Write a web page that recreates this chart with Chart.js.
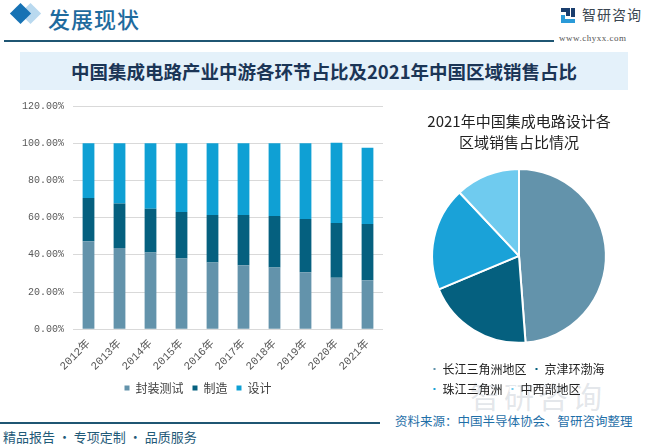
<!DOCTYPE html>
<html>
<head>
<meta charset="utf-8">
<script src="https://cdn.jsdelivr.net/npm/chart.js@4/dist/chart.umd.min.js"></script>
<style>
  html, body { margin:0; padding:0; background:#fff; }
  body { width:646px; height:445px; position:relative; overflow:hidden; font-family:"Noto Sans CJK SC", sans-serif; }
  .abs { position:absolute; }
  #hdrLine { left:4px; top:40px; width:550px; height:1.5px; background:#1f5673; }
  #dia1 { top:6px; width:15px; height:15px; background:#b9d9ef; transform:rotate(45deg); left:23px; }
  #dia2 { left:13px; top:6px; width:15px; height:15px; background:#1672b4; transform:rotate(45deg); }
  #hdrTxt { left:48px; top:2px; font-size:22px; color:#1f6b9e; font-weight:500; letter-spacing:1px; }
  #logoIcon { left:561px; top:8px; width:14px; height:15px; }
  #logoTxt { left:582px; top:4px; font-size:14px; color:#3a4550; letter-spacing:1px; }
  #logoUrl { left:559px; top:33px; font-size:9px; color:#555; font-family:"Liberation Serif", serif; letter-spacing:0.5px; }
  #band { left:20px; top:52px; width:608px; height:38px; background:#e4f1fa; }
  #title { left:20px; top:52px; width:608px; height:38px; line-height:38px; text-align:center; font-size:18.5px; font-weight:700; color:#1b3556; }
  #barWrap { left:0px; top:91px; width:400px; height:313px; }
  #pieWrap { left:403px; top:100px; width:234px; height:305px; }
  #footLine { left:0px; top:422px; width:380px; height:1.5px; background:#1f5673; }
  #footTxt { left:3px; top:427px; font-size:13px; color:#1f5a78; white-space:pre; }
  #src { left:395px; top:411px; font-size:12.5px; color:#1f6fa8; white-space:nowrap; }
  #wm { left:470px; top:373px; font-size:30px; color:rgba(160,172,184,0.3); letter-spacing:4px; }
</style>
</head>
<body>
<div id="dia1" class="abs"></div>
<div id="dia2" class="abs"></div>
<div id="hdrTxt" class="abs">发展现状</div>
<svg id="logoIcon" class="abs" viewBox="0 0 14 15"><rect x="0" y="0" width="9" height="4" fill="#1a3e6e"/><rect x="5" y="4" width="4" height="4" fill="#1a3e6e"/><rect x="0" y="7" width="4" height="8" fill="#2a9ad8"/><rect x="4" y="11" width="10" height="4" fill="#2a9ad8"/><rect x="10" y="0" width="4" height="9" fill="#1a3e6e"/></svg>
<div id="logoTxt" class="abs">智研咨询</div>
<div id="logoUrl" class="abs">www.chyxx.com</div>
<div id="hdrLine" class="abs"></div>
<div id="band" class="abs"></div>
<div id="title" class="abs">中国集成电路产业中游各环节占比及2021年中国区域销售占比</div>
<div id="wm" class="abs">智研咨询</div>
<div id="barWrap" class="abs"><canvas id="bar" width="400" height="313"></canvas></div>
<div id="pieWrap" class="abs"><canvas id="pie" width="234" height="305"></canvas></div>
<div id="footLine" class="abs"></div>
<div id="footTxt" class="abs">精品报告 · 专项定制 · 品质服务</div>
<div id="src" class="abs">资料来源：中国半导体协会、智研咨询整理</div>
<script>
// ---- data ----
const years = ["2012年","2013年","2014年","2015年","2016年","2017年","2018年","2019年","2020年","2021年"];
const seriesNames = ["封装测试","制造","设计"];
const packaging = [47.3, 43.6, 41.3, 38.0, 35.9, 34.4, 33.2, 30.6, 27.7, 26.3];
const manufacturing = [23.3, 24.0, 23.4, 25.0, 25.5, 27.0, 27.7, 28.6, 29.4, 30.3];
const design = [29.4, 32.4, 35.3, 37.0, 38.6, 38.6, 39.1, 40.8, 43.2, 41.0];
const yTicks = [0, 20, 40, 60, 80, 100, 120];

const regions = ["长江三角洲地区","京津环渤海","珠江三角洲","中西部地区"];
const regionShare = [48.8, 19.9, 19.3, 12.0];
const pieTitle = ["2021年中国集成电路设计各","区域销售占比情况"];

// ---- styles ----
const barColors = ["#6393ab", "#05607f", "#0fa0d4"];
const pieColors = ["#6393ab", "#05607f", "#1aa2d8", "#6fcbef"];
const tickFont = { family: "'Liberation Mono', 'Noto Sans CJK SC', monospace", size: 10 };

new Chart(document.getElementById("bar"), {
  type: "bar",
  data: {
    labels: years,
    datasets: [
      { label: seriesNames[0], data: packaging, backgroundColor: barColors[0] },
      { label: seriesNames[1], data: manufacturing, backgroundColor: barColors[1] },
      { label: seriesNames[2], data: design, backgroundColor: barColors[2] }
    ]
  },
  options: {
    responsive: false,
    animation: false,
    layout: { padding: { left: 13, right: 17, top: 8, bottom: 0 } },
    datasets: { bar: { categoryPercentage: 1, barPercentage: 0.38 } },
    scales: {
      x: {
        stacked: true,
        grid: { display: false },
        border: { display: false },
        ticks: { color: "#595959", font: { family: "'Liberation Mono', 'Noto Sans CJK SC', monospace", size: 11 }, minRotation: 45, maxRotation: 45, padding: 0 }
      },
      y: {
        stacked: true,
        min: 0, max: 120,
        afterBuildTicks: (ax) => { ax.ticks = yTicks.map(v => ({ value: v })); },
        grid: { color: "#d9d9d9", drawTicks: false },
        border: { display: false },
        ticks: { color: "#595959", font: tickFont, padding: 9, callback: (v) => v.toFixed(2) + "%" }
      }
    },
    plugins: {
      tooltip: { enabled: false },
      legend: {
        position: "bottom",
        labels: { boxWidth: 5, boxHeight: 5, padding: 9, color: "#404040", font: { family: "'Noto Sans CJK SC', sans-serif", size: 12 } }
      }
    }
  }
});

new Chart(document.getElementById("pie"), {
  type: "pie",
  data: {
    labels: regions,
    datasets: [{ data: regionShare, backgroundColor: pieColors, borderColor: "#ffffff", borderWidth: 2 }]
  },
  options: {
    responsive: false,
    animation: false,
    layout: { padding: { top: 0, bottom: 0, left: 21.5, right: 23.5 } },
    plugins: {
      tooltip: { enabled: false },
      title: {
        display: true, text: pieTitle, color: "#222",
        font: { family: "'Noto Sans CJK SC', sans-serif", size: 15, weight: "normal", lineHeight: 1.4 },
        padding: { top: 11, bottom: 15 }
      },
      legend: {
        position: "bottom",
        align: "start",
        title: { display: true, text: " ", font: { size: 1 }, padding: { top: 5, bottom: 5 } },
        labels: { boxWidth: 4, boxHeight: 4, padding: 8, color: "#222", font: { family: "'Noto Sans CJK SC', sans-serif", size: 12 } }
      }
    }
  }
});
</script>
</body>
</html>
